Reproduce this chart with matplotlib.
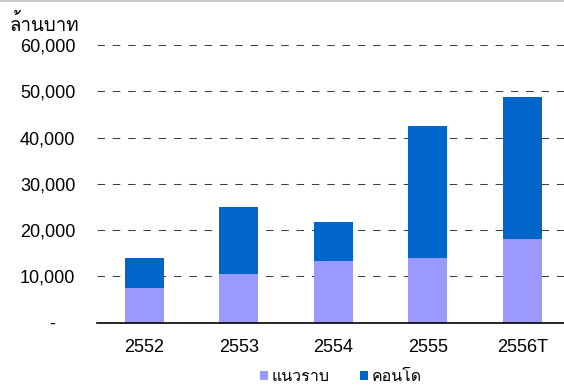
import matplotlib
matplotlib.use('Agg')
import matplotlib.pyplot as plt
from matplotlib.lines import Line2D
from matplotlib.ticker import FuncFormatter

# values in million baht
years = ['2552', '2553', '2554', '2555', '2556T']
lowrise = [7500, 10500, 13300, 14000, 18000]      # แนวราบ
condo_total = [14000, 25000, 21700, 42600, 48700]
condo = [t - l for t, l in zip(condo_total, lowrise)]  # คอนโด
yticks = [0, 10000, 20000, 30000, 40000, 50000, 60000]

plt.rcParams['font.family'] = ['Liberation Sans', 'Loma', 'DejaVu Sans']

fig = plt.figure(figsize=(5.64, 3.86), dpi=100)
ax = fig.add_axes([97 / 564, 63.3 / 386, 472.5 / 564, 277.7 / 386])

x = range(len(years))
ax.bar(x, lowrise, width=0.41, color='#9999FF', label='แนวราบ', zorder=2)
ax.bar(x, condo, width=0.41, bottom=lowrise, color='#0066CC', label='คอนโด', zorder=2)

ax.set_xlim(-0.5, len(years) - 0.5)
ax.set_ylim(0, 60000)
ax.set_yticks(yticks)
ax.yaxis.set_major_formatter(FuncFormatter(lambda v, p: f'{v:,.0f}' if v else '-    '))
ax.set_xticks(list(x))
ax.set_xticklabels(years)

ax.tick_params(axis='y', length=0, pad=15.5, labelsize=13)
ax.tick_params(axis='x', length=0, pad=12, labelsize=13)

for s in ['top', 'right', 'left']:
    ax.spines[s].set_visible(False)
ax.spines['bottom'].set_linewidth(1.2)
ax.spines['bottom'].set_zorder(3)

ax.yaxis.grid(True, color='#404040', lw=0.75, linestyle=(0, (7.2, 7.5)), zorder=1)
ax.set_axisbelow(True)

ax.legend(loc='center', bbox_to_anchor=(0.516, -0.195), ncol=2, frameon=False,
          fontsize=11.5, handlelength=0.5, handleheight=0.5, handletextpad=0.25,
          columnspacing=1.9, borderpad=0)

fig.text(10 / 564, 1 - 31 / 386, 'ล้านบาท', fontsize=13.5, va='baseline', ha='left')
fig.add_artist(Line2D([0, 1], [0.998, 0.998], color='#c8c8c8', lw=1.5, transform=fig.transFigure))

fig.savefig('out.png', dpi=100)
